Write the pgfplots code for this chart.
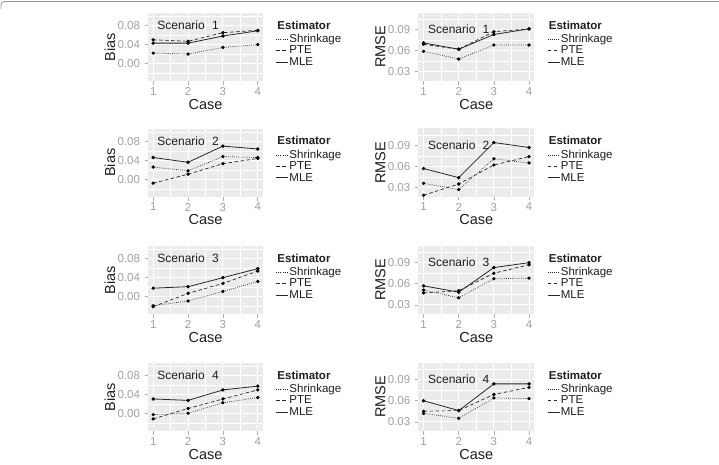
\documentclass[border=0pt]{standalone}
\usepackage{pgfplots}
\usepackage{pgfplotstable}
\pgfplotsset{compat=1.18}
\usepackage{fontspec}
\setmainfont{Liberation Sans}

\definecolor{panelbg}{RGB}{235,235,235}
\definecolor{ticktext}{RGB}{160,160,160}
\definecolor{tickmark}{RGB}{175,175,175}
\definecolor{titletext}{RGB}{30,30,30}
\definecolor{linecol}{RGB}{40,40,40}
\definecolor{framecol}{RGB}{150,150,150}

% Bias and RMSE by case, one table per scenario
\pgfplotstableread{
case shr pte mle
1 0.022 0.050 0.043
2 0.020 0.047 0.043
3 0.034 0.065 0.058
4 0.040 0.070 0.069
}\biasA
\pgfplotstableread{
case shr pte mle
1 0.026 -0.008 0.046
2 0.018 0.011 0.036
3 0.048 0.033 0.070
4 0.046 0.044 0.064
}\biasB
\pgfplotstableread{
case shr pte mle
1 -0.019 -0.021 0.018
2 -0.009 0.007 0.021
3 0.011 0.028 0.040
4 0.032 0.054 0.059
}\biasC
\pgfplotstableread{
case shr pte mle
1 -0.002 -0.011 0.031
2 0.001 0.011 0.028
3 0.023 0.031 0.050
4 0.034 0.050 0.058
}\biasD
\pgfplotstableread{
case shr pte mle
1 0.059 0.069 0.071
2 0.048 0.062 0.062
3 0.068 0.087 0.083
4 0.068 0.091 0.091
}\rmseA
\pgfplotstableread{
case shr pte mle
1 0.036 0.019 0.057
2 0.027 0.035 0.044
3 0.071 0.062 0.094
4 0.065 0.074 0.087
}\rmseB
\pgfplotstableread{
case shr pte mle
1 0.051 0.047 0.057
2 0.040 0.050 0.048
3 0.067 0.075 0.083
4 0.068 0.087 0.090
}\rmseC
\pgfplotstableread{
case shr pte mle
1 0.042 0.045 0.060
2 0.035 0.046 0.046
3 0.064 0.069 0.084
4 0.063 0.079 0.084
}\rmseD

\pgfplotsset{
  panel/.style={
    scale only axis,
    width=115pt, height=68.5pt,
    xmin=0.85, xmax=4.15,
    xtick={1,2,3,4},
    minor xtick={1.5,2.5,3.5},
    axis background/.style={fill=panelbg},
    axis line style={draw=none},
    grid=both,
    major grid style={white, line width=0.9pt},
    minor grid style={white, line width=0.45pt},
    tick pos=left,
    tick align=outside,
    major tick length=3.5pt,
    minor tick length=0pt,
    major tick style={tickmark, line width=0.6pt},
    /pgf/number format/assume math mode=true,
    ticklabel style={font=\fontsize{11.5}{12}\selectfont, text=ticktext},
    yticklabel style={/pgf/number format/fixed, /pgf/number format/fixed zerofill, /pgf/number format/precision=2, xshift=-1pt},
    xticklabel style={yshift=1pt},
    every axis x label/.style={at={(axis description cs:0.5,0)}, anchor=center, yshift=-23pt, font=\fontsize{14.5}{15}\selectfont, text=titletext},
    every axis y label/.style={at={(axis description cs:0,0.5)}, xshift=-38pt, rotate=90, anchor=center, font=\fontsize{14.5}{15}\selectfont, text=titletext},
    xlabel={Case},
    legend style={draw=none, fill=none, at={(axis description cs:1.11,0.70)}, anchor=north west,
      font=\fontsize{11.5}{12}\selectfont, text=titletext,
      row sep=0.3pt, inner sep=0pt, nodes={inner sep=0.8pt}},
    legend cell align=left,
    legend image code/.code={\draw[#1] (0pt,0pt) -- (12pt,0pt);},
    clip=false,
  },
  bias/.style={panel, ymin=-0.037, ymax=0.107, ytick={0,0.04,0.08}, minor ytick={-0.02,0.02,0.06,0.10}, ylabel={Bias}},
  rmse/.style={panel, ymin=0.0165, ymax=0.114, ytick={0.03,0.06,0.09}, minor ytick={0.045,0.075,0.105}, ylabel={RMSE}},
  shrstyle/.style={linecol, line width=0.7pt, dash pattern=on 0.7pt off 1.4pt, mark=*, mark size=1.3pt, mark options={solid, fill=black, draw=black}},
  ptestyle/.style={linecol, line width=0.7pt, dash pattern=on 3.5pt off 2.5pt, mark=*, mark size=1.3pt, mark options={solid, fill=black, draw=black}},
  mlestyle/.style={linecol, line width=0.8pt, mark=*, mark size=1.3pt, mark options={fill=black, draw=black}},
}

% one panel: #1 style, #2 table, #3 scenario number, #4 y position of the label
\newcommand{\panel}[4]{%
  \addplot[shrstyle] table[x=case, y=shr] {#2};
  \addlegendentry{Shrinkage}
  \addplot[ptestyle] table[x=case, y=pte] {#2};
  \addlegendentry{PTE}
  \addplot[mlestyle] table[x=case, y=mle] {#2};
  \addlegendentry{MLE}
  \node[font=\fontsize{12}{13}\selectfont, text=titletext] at (axis cs:2,#4) {Scenario\hspace{0.6em}#3};
  \node[anchor=west, font=\bfseries\fontsize{11.5}{12}\selectfont, text=titletext] at (axis description cs:1.095,0.82) {Estimator};
}

\begin{document}
\begin{tikzpicture}
\useasboundingbox (0pt,0pt) rectangle (719pt,464pt);
% frame line along the top
\draw[framecol, line width=0.8pt, rounded corners=3pt] (1pt,455pt) -- (1pt,462.5pt) -- (719pt,462.5pt);

% left column: Bias
\begin{axis}[bias, at={(148pt,451.3pt)}, anchor=north west]
  \panel{bias}{\biasA}{1}{0.08}
\end{axis}
\begin{axis}[bias, at={(148pt,335.5pt)}, anchor=north west]
  \panel{bias}{\biasB}{2}{0.08}
\end{axis}
\begin{axis}[bias, at={(148pt,218.2pt)}, anchor=north west]
  \panel{bias}{\biasC}{3}{0.08}
\end{axis}
\begin{axis}[bias, at={(148pt,101.2pt)}, anchor=north west]
  \panel{bias}{\biasD}{4}{0.08}
\end{axis}

% right column: RMSE
\begin{axis}[rmse, width=116pt, at={(418.3pt,451.3pt)}, anchor=north west]
  \panel{rmse}{\rmseA}{1}{0.09}
\end{axis}
\begin{axis}[rmse, width=116pt, at={(418.3pt,335.5pt)}, anchor=north west]
  \panel{rmse}{\rmseB}{2}{0.09}
\end{axis}
\begin{axis}[rmse, width=116pt, at={(418.3pt,218.2pt)}, anchor=north west]
  \panel{rmse}{\rmseC}{3}{0.09}
\end{axis}
\begin{axis}[rmse, width=116pt, at={(418.3pt,101.2pt)}, anchor=north west]
  \panel{rmse}{\rmseD}{4}{0.09}
\end{axis}
\end{tikzpicture}
\end{document}
